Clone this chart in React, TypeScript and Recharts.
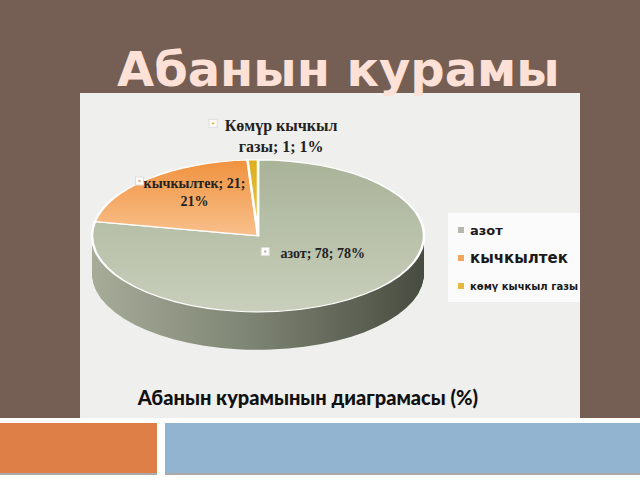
import React from "react";
import { PieChart, Pie, Cell, Legend } from "recharts";

// composition of air, %
const NAMES = ["азот", "кычкылтек", "Көмүр кычкыл газы"];
const VALUES = [78, 21, 1];
const LEGEND_LABELS = ["азот", "кычкылтек", "көмү кычкыл газы"];

const data = NAMES.map((name, i) => ({ name, value: VALUES[i] }));

const TOP_FILLS = ["url(#topGreen)", "url(#topOrange)", "url(#topYellow)"];
const SIDE_FILLS = ["url(#sideGreen)", "#c77a35", "#b8901c"];
const LEGEND_COLORS = ["#b5b9ab", "#f4a55e", "#e8b83c"];

// ellipse of the pie top, in page pixels
const CX = 258;
const CY = 236;
const RX = 166;
const RY = 76;
const DEPTH = 38;
const SQUASH = RY / RX;
const PRE_DEPTH = DEPTH / SQUASH;
const SIDE_OFFSETS = Array.from(
  { length: Math.ceil(PRE_DEPTH / 2) },
  (_, i) => PRE_DEPTH - i * 2
);

const RAD = Math.PI / 180;
const LABEL_RADIUS = [0.3, 0.77, 1.32];
const LABEL_DX = [33, 21, 30];
const LABEL_FONT = [14, 14, 16];
const LABEL_WRAP = [30, 15, 13];
const LABEL_KEY_GAP = [8, 2, 16];
const LEGEND_FONT = [13, 15, 10];

const wrap = (text: string, max: number) => {
  const lines: string[] = [];
  let cur = "";
  text.split(" ").forEach((w) => {
    const next = cur ? cur + " " + w : w;
    if (next.length > max && cur) {
      lines.push(cur);
      cur = w;
    } else {
      cur = next;
    }
  });
  if (cur) lines.push(cur);
  return lines;
};

const renderLabel = (props: any) => {
  const { cx, cy, midAngle, outerRadius, percent, index, name, value } = props;
  const f = LABEL_RADIUS[index];
  const x = cx + outerRadius * f * Math.cos(-midAngle * RAD) + LABEL_DX[index];
  const y = cy + outerRadius * SQUASH * f * Math.sin(-midAngle * RAD);
  const fs = LABEL_FONT[index];
  const lh = fs * 1.3;
  const lines = wrap(
    `${name}; ${value}; ${Math.round(percent * 100)}%`,
    LABEL_WRAP[index]
  );
  const widest = Math.max(...lines.map((l) => l.length)) * fs * 0.5;
  const top = y - ((lines.length - 1) * lh) / 2;
  const mx = x - widest / 2 - 8 - LABEL_KEY_GAP[index];
  return (
    <g key={`label-${index}`}>
      <rect x={mx} y={top - 6} width={8} height={8} fill="#fff" stroke="#dcdcdc" />
      <circle cx={mx + 4} cy={top - 2} r={1.2} fill={LEGEND_COLORS[index]} />
      {lines.map((l, i) => (
        <text
          key={i}
          x={x}
          y={top + i * lh}
          textAnchor="middle"
          dominantBaseline="central"
          fontFamily="Liberation Serif"
          fontWeight="bold"
          fontSize={fs}
          fill="#222"
        >
          {l}
        </text>
      ))}
    </g>
  );
};

const renderLegend = (props: any) => {
  const payload = [...(props.payload || [])].sort(
    (a: any, b: any) => NAMES.indexOf(a.value) - NAMES.indexOf(b.value)
  );
  return (
    <div style={{ background: "#fbfbfb", padding: "3px 0 2px 10px", width: 150 }}>
      {payload.map((p: any) => {
        const i = NAMES.indexOf(p.value);
        return (
          <div key={p.value} style={{ display: "flex", alignItems: "center", height: 28 }}>
            <span
              style={{
                width: 6,
                height: 6,
                background: p.color || LEGEND_COLORS[i],
                marginRight: 6,
                display: "inline-block",
              }}
            />
            <span
              style={{
                fontFamily: "DejaVu Sans",
                fontWeight: "bold",
                fontSize: LEGEND_FONT[i],
                color: "#1a1a1a",
                whiteSpace: "nowrap",
              }}
            >
              {LEGEND_LABELS[i]}
            </span>
          </div>
        );
      })}
    </div>
  );
};

export default function App() {
  const size = 2 * RX + 8;
  return (
    <div
      style={{
        position: "absolute",
        left: 0,
        top: 0,
        width: 640,
        height: 480,
        overflow: "hidden",
        background: "#fff",
      }}
    >
      <svg width={640} height={480} style={{ position: "absolute", left: 0, top: 0 }}>
        <rect x={0} y={0} width={640} height={418} fill="#755e54" />
        <rect x={80} y={93} width={500} height={325} fill="#efefed" />
        <text
          x={117}
          y={86}
          fontFamily="DejaVu Sans"
          fontWeight="bold"
          fontSize={48}
          fill="#fde0d6"
        >
          Абанын курамы
        </text>
        <text
          x={308}
          y={397}
          textAnchor="middle"
          dominantBaseline="central"
          fontFamily="Lato"
          fontWeight={900}
          fontSize={20}
          fill="#111"
        >
          Абанын курамынын диаграмасы (%)
        </text>
        <rect x={0} y={425} width={157} height={50} fill="#a9a9a9" />
        <rect x={0} y={423} width={157} height={50} fill="#df7f48" />
        <rect x={165} y={425} width={475} height={50} fill="#a9a9a9" />
        <rect x={165} y={423} width={475} height={50} fill="#93b4d1" />
      </svg>

      {/* 3D pie: squashed circle with stacked copies for the side */}
      <div
        style={{
          position: "absolute",
          left: CX - size / 2,
          top: CY - (size / 2) * SQUASH,
          transform: `scaleY(${SQUASH})`,
          transformOrigin: "0 0",
        }}
      >
        <PieChart
          width={size}
          height={size + PRE_DEPTH + 4}
          margin={{ top: 0, right: 0, bottom: 0, left: 0 }}
        >
          <defs>
            <linearGradient id="sideGreen" x1="0" y1="0" x2="1" y2="0">
              <stop offset="0%" stopColor="#a6ac98" />
              <stop offset="50%" stopColor="#7c8271" />
              <stop offset="100%" stopColor="#474c40" />
            </linearGradient>
            <linearGradient id="topGreen" x1="0" y1="0" x2="0" y2="1">
              <stop offset="0%" stopColor="#a9b398" />
              <stop offset="100%" stopColor="#c8cfbc" />
            </linearGradient>
            <linearGradient id="topOrange" x1="0" y1="0" x2="0" y2="1">
              <stop offset="0%" stopColor="#f0923e" />
              <stop offset="100%" stopColor="#f8c08c" />
            </linearGradient>
            <linearGradient id="topYellow" x1="0" y1="0" x2="0" y2="1">
              <stop offset="0%" stopColor="#dcae1e" />
              <stop offset="100%" stopColor="#efc84c" />
            </linearGradient>
          </defs>
          {SIDE_OFFSETS.map((off) => (
            <Pie
              key={`side-${off}`}
              data={data}
              dataKey="value"
              nameKey="name"
              cx={size / 2}
              cy={size / 2 + off}
              outerRadius={RX}
              startAngle={90}
              endAngle={-270}
              stroke="none"
              legendType="none"
              isAnimationActive={false}
            >
              {data.map((_, i) => (
                <Cell key={`s-${i}`} fill={SIDE_FILLS[i]} />
              ))}
            </Pie>
          ))}
          <Pie
            data={data}
            dataKey="value"
            nameKey="name"
            cx={size / 2}
            cy={size / 2}
            outerRadius={RX}
            startAngle={90}
            endAngle={-270}
            stroke="#ffffff"
            strokeWidth={2.5}
            isAnimationActive={false}
          >
            {data.map((_, i) => (
              <Cell key={`t-${i}`} fill={TOP_FILLS[i]} />
            ))}
          </Pie>
        </PieChart>
      </div>

      {/* labels and legend, drawn unsquashed over the pie */}
      <div
        style={{
          position: "absolute",
          left: 80,
          top: 93,
          width: 500,
          height: 325,
          overflow: "hidden",
        }}
      >
        <PieChart width={500} height={325} margin={{ top: 0, right: 0, bottom: 0, left: 0 }}>
          <Pie
            data={data}
            dataKey="value"
            nameKey="name"
            cx={CX - 80}
            cy={CY - 93}
            outerRadius={RX}
            startAngle={90}
            endAngle={-270}
            fillOpacity={0}
            stroke="none"
            label={renderLabel}
            labelLine={false}
            isAnimationActive={false}
          >
            {data.map((_, i) => (
              <Cell key={`o-${i}`} fill={LEGEND_COLORS[i]} />
            ))}
          </Pie>
          <Legend
            layout="vertical"
            align="right"
            verticalAlign="top"
            content={renderLegend}
            wrapperStyle={{ left: 368, top: 120, width: 150, right: "auto" }}
          />
        </PieChart>
      </div>
    </div>
  );
}
